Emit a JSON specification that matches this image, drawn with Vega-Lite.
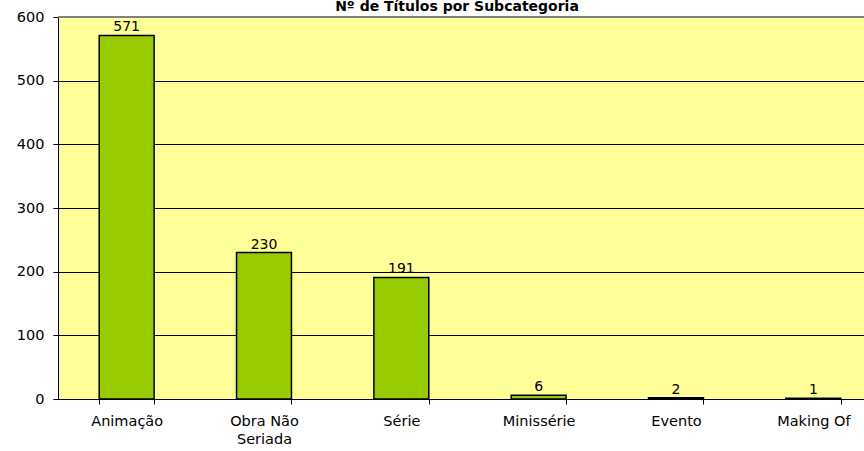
{
  "$schema": "https://vega.github.io/schema/vega-lite/v6.json",
  "autosize": {"type": "none"},
  "padding": {"left": 58, "top": 17, "right": 0, "bottom": 52},
  "width": 824,
  "height": 382,
  "background": "white",
  "title": {
    "text": "Nº de Títulos por Subcategoria",
    "font": "DejaVu Sans",
    "fontSize": 14,
    "fontWeight": "bold",
    "color": "black",
    "anchor": "middle",
    "frame": "group",
    "baseline": "alphabetic",
    "offset": 0,
    "dy": 16,
    "dx": -13
  },
  "config": {
    "view": {"fill": "#FFFF99", "stroke": null},
    "font": "DejaVu Sans"
  },
  "data": {
    "values": [
      {"subcategoria": "Animação", "titulos": 571},
      {"subcategoria": "Obra Não Seriada", "titulos": 230},
      {"subcategoria": "Série", "titulos": 191},
      {"subcategoria": "Minissérie", "titulos": 6},
      {"subcategoria": "Evento", "titulos": 2},
      {"subcategoria": "Making Of", "titulos": 1}
    ]
  },
  "encoding": {
    "x": {
      "field": "subcategoria",
      "type": "nominal",
      "sort": null,
      "scale": {"paddingInner": 0.6, "paddingOuter": 0.3},
      "axis": {
        "title": null,
        "labelAngle": 0,
        "labelFontSize": 14.5,
        "labelColor": "black",
        "labelPadding": 10,
        "labelBaseline": "top",
        "labelLineHeight": 18,
        "labelExpr": "datum.label == 'Obra Não Seriada' ? ['Obra Não', 'Seriada'] : datum.label",
        "tickBand": "extent",
        "tickSize": 5,
        "tickColor": "black",
        "domainColor": "black",
        "grid": false
      }
    },
    "y": {
      "field": "titulos",
      "type": "quantitative",
      "scale": {"domain": [0, 600], "nice": false},
      "axis": {
        "title": null,
        "grid": true,
        "values": [0, 100, 200, 300, 400, 500, 600],
        "labelFontSize": 14.5,
        "labelColor": "black",
        "labelPadding": 9,
        "tickSize": 5,
        "tickColor": "black",
        "domainColor": "black",
        "gridColor": "black",
        "gridOpacity": 1,
        "gridWidth": 1
      }
    }
  },
  "layer": [
    {
      "mark": {"type": "bar", "fill": "#99CC00", "stroke": "black", "strokeWidth": 1.5}
    },
    {
      "mark": {"type": "text", "baseline": "bottom", "dy": -1, "fontSize": 14, "color": "black"},
      "encoding": {
        "text": {"field": "titulos", "type": "quantitative"}
      }
    },
    {
      "mark": {"type": "rule", "color": "#808080", "strokeWidth": 2},
      "encoding": {"y": {"datum": 600}, "x": {"value": 0}, "x2": {"value": 824}}
    }
  ]
}
